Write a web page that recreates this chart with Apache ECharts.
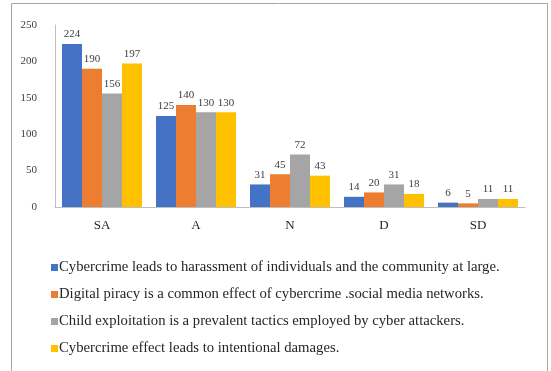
<!DOCTYPE html>
<html>
<head>
<meta charset="utf-8">
<script src="https://cdn.jsdelivr.net/npm/echarts@6/dist/echarts.min.js"></script>
<style>
  html, body { margin: 0; padding: 0; background: #fff; }
  #chart { width: 551px; height: 371px; }
</style>
</head>
<body>
<div id="chart"></div>
<script>
var categories = ['SA', 'A', 'N', 'D', 'SD'];
var seriesNames = [
  'Cybercrime leads to harassment of individuals and the community at large.',
  'Digital piracy is a common effect of cybercrime .social media networks.',
  'Child exploitation is a prevalent tactics employed by cyber attackers.',
  'Cybercrime effect leads to intentional damages.'
];
var harassment = [224, 125, 31, 14, 6];
var piracy = [190, 140, 45, 20, 5];
var exploitation = [156, 130, 72, 31, 11];
var damages = [197, 130, 43, 18, 11];
var yTicks = [0, 50, 100, 150, 200, 250];

var colors = ['#4472C4', '#ED7D31', '#A5A5A5', '#FFC000'];
var serif = '"Liberation Serif", "DejaVu Serif", serif';

var labelCommon = {
  show: true,
  position: 'top',
  distance: 4,
  color: '#404040',
  fontFamily: serif,
  fontSize: 11
};

function makeSeries(name, data) {
  return {
    name: name,
    type: 'bar',
    barWidth: 20,
    barGap: '0%',
    label: labelCommon,
    data: data
  };
}

var chart = echarts.init(document.getElementById('chart'));
chart.setOption({
  animation: false,
  color: colors,
  graphic: [{
    type: 'rect',
    shape: { x: 11.5, y: 3.5, width: 536, height: 380 },
    style: { fill: 'none', stroke: '#a6a6a6', lineWidth: 1 },
    silent: true
  }],
  grid: { left: 55, right: 26, top: 25, bottom: 164 },
  legend: {
    orient: 'vertical',
    left: 46,
    top: 255,
    itemWidth: 7,
    itemHeight: 7,
    itemGap: 12,
    icon: 'rect',
    textStyle: { fontFamily: serif, fontSize: 14.7, color: '#262626', padding: [0, 0, 0, -4] },
    data: seriesNames
  },
  xAxis: {
    type: 'category',
    data: categories,
    axisLine: { lineStyle: { color: '#bfbfbf' } },
    axisTick: { show: false },
    axisLabel: { color: '#262626', fontFamily: serif, fontSize: 13, margin: 12 }
  },
  yAxis: {
    type: 'value',
    min: yTicks[0],
    max: yTicks[yTicks.length - 1],
    interval: 50,
    axisLine: { show: true, lineStyle: { color: '#bfbfbf' } },
    axisTick: { show: false },
    splitLine: { show: false },
    axisLabel: { color: '#404040', fontFamily: serif, fontSize: 11, margin: 18 }
  },
  series: [
    makeSeries(seriesNames[0], harassment),
    makeSeries(seriesNames[1], piracy),
    makeSeries(seriesNames[2], exploitation),
    makeSeries(seriesNames[3], damages)
  ]
});
</script>
</body>
</html>
